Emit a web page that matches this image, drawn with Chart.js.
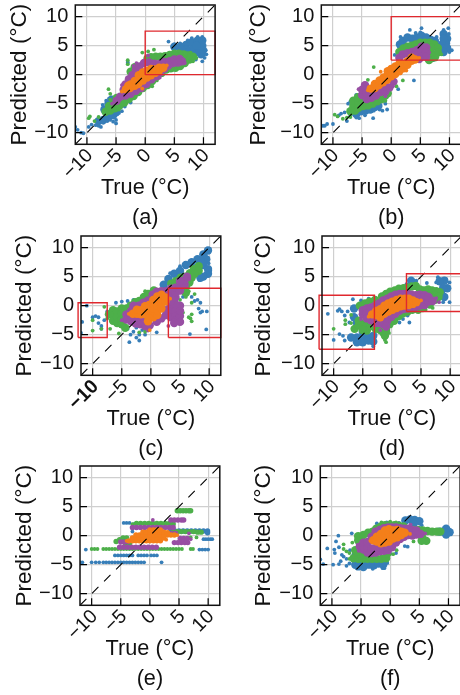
<!DOCTYPE html>
<html><head><meta charset="utf-8">
<style>html,body{margin:0;padding:0;background:#fff;width:460px;height:695px;overflow:hidden}canvas{position:absolute}</style>
<script src="https://cdn.jsdelivr.net/npm/chart.js@4"></script>
</head><body>
<script>
const tickValues=[-10,-5,0,5,10];
const axisMin=-12, axisMax=12;
const xLabel="True (°C)", yLabel="Predicted (°C)";
const diagonal=[[-12,-12],[12,12]];

// ---- panel (a) ----
const a_box=[[0,0],[12,0],[12,7.5],[0,7.5],[0,0]];
const a_blue_core=[[5,4.8],[6,4.8],[7,5.1],[8,5.6],[9,5.9],[9.8,5.9],[9.8,5],[9.9,4.2],[9.6,3.5],[8.8,3.9],[8,4.3],[8.8,5],[7,4.4],[6.2,4.4],[-8,-8],[-7.2,-7.8],[-6.4,-7.3],[-5.5,-7],[-5,-6.5],[-7,-6],[-6.3,-5],[-5.7,-4.3],[-4.5,-4.3]];
const a_blue=[[-12,-9],[-11.6,-9.5],[-11,-10],[-10.6,-10.1],[-9.7,-9],[-9.2,-8.6],[-8.5,-8.7],[-8,-8.8],[-8,-8.1],[-7.6,-9],[-7.2,-8.3],[-6.5,-8],[-6,-7.8],[-5.5,-8.1],[-5,-7.8],[-5,-8.4],[-7.3,-5.2],[-6.7,-4.5],[-6.2,-4.1],[-5.9,-3.9],[-4.5,-6.6],[-4,-6.3],[-3.5,-5.5],[-2.5,-4.8],[-3.2,-3.7],[-3,2],[-3,2.2],[-2,1.2],[4,5.7],[5,5.2],[6,5.4],[7.3,5.9],[8,6.3],[9,6.5],[9.8,6.5],[10,5.6],[10.4,4.2],[10.5,3.5],[10.2,2.9],[9.8,2.3],[8.7,2.6],[8,3.1],[6.8,2.8],[6.6,2.1],[7,4.8],[8.5,3.4]];
const a_green_core=[[-6.8,-6.4],[-6,-6.2],[-5.2,-5.8],[-4.4,-5.3],[-3.6,-4.8],[-2.8,-4.2],[-2,-3.7],[-1.2,-3],[-0.4,-2.3],[0.4,-1.8],[1.2,-1.1],[2,-0.3],[2.8,0.3],[3.6,0.9],[4.4,1.1],[5.2,1.2],[6,1.5],[6.8,2],[7.6,2.6],[8.2,3.1],[7.4,3.3],[6.6,3.5],[5.8,3.6],[5,3.6],[4.2,3.4],[3.4,3.2],[2.6,3.1],[1.8,3.1],[1,3],[0.4,2.8],[-6.2,-5.4],[-5.4,-4.9],[-4.9,-4],[-1.8,1.3],[-2.5,0.5]];
const a_green=[[-9.7,-7.5],[-9.5,-7.2],[-8.7,-8],[-8,-7.3],[-6.3,-2.5],[-6,-3.3],[-6,-4.3],[-3,2.5],[-3,1.8],[-0.5,3.8],[0.5,4],[1.5,4.3],[2,-1],[1.2,-2],[8.8,2.9],[8.2,2.3],[7.8,3.8],[-4.5,-6]];
const a_purple_core=[[-4.3,-3.8],[-3.7,-2.6],[-3.4,-1.7],[-2.8,-0.8],[-2.2,-0.1],[-1.6,0.8],[-1,1.4],[-0.2,2],[0.7,2.1],[1.6,1.9],[2.5,1.9],[3.3,2.2],[4.2,2.3],[5,2.6],[5.9,2.7],[6.3,2.3],[5.6,2.1],[4.8,2],[4,1.6],[3.3,1],[2.6,0.4],[1.9,-0.3],[1.1,-0.8],[0.2,-1.6],[-0.7,-2.3],[-1.6,-2.8],[-2.5,-3.3],[-3.4,-3.6],[-4.9,-4.5],[-3.6,-2.8],[-3,-3]];
const a_purple=[[-5.7,-5],[-2,1.5],[-1.5,2],[0.5,3.3],[-4,-1.8],[6.8,2],[3,1.2],[2.5,-0.5]];
const a_orange_core=[[-3.3,-2.5],[-2.6,-2.3],[-2.5,-1.7],[-1.8,-1.9],[-1.8,-1.1],[-1.2,-1.6],[-1.1,-0.8],[-1.1,-0.1],[-0.4,-1],[-0.4,-0.3],[-0.4,0.4],[0.3,-0.5],[0.3,0.2],[0.3,0.7],[1,-0.1],[1,0.5],[1,1],[1.7,0.3],[1.7,0.9],[2.4,0.7],[2.4,1.2],[3.1,1.2],[-2.9,-1.9]];
const a_orange=[[-4,-2.9],[3.7,1.6],[-0.5,-2.4]];

// ---- panel (b) ----
const b_box=[[0,2.5],[13,2.5],[13,10],[0,10],[0,2.5]];
const b_blue_core=[[2,5.8],[2.8,6.4],[3.6,6.2],[4.4,6.4],[5.2,6.7],[6,6.4],[6.8,6],[7.5,5.8],[1.5,5.2],[9,7],[9.6,6.2],[9.4,5.4],[9,6.2],[8.7,5.2],[8.8,4.5],[9.6,4.6],[9,3.9],[-6,-6.8],[-5.2,-6.3],[-4.4,-6.2],[-3.6,-6],[-2.8,-5.6],[-2.2,-5.4]];
const b_blue=[[-12,-8.8],[-11.7,-8.8],[-11.4,-8.8],[-11,-8.5],[-10,-8.5],[-9,-7],[-8.6,-6.7],[-8,-6.5],[-7.6,-8],[-7,-7],[-6.5,-6],[-6,-7.4],[-5.5,-7.5],[-4.5,-7],[-3.1,-7.5],[-3,-6.2],[-2,-6],[-1.5,-6.2],[-1,-5],[-0.7,-6],[-7.4,-5],[-7,-4.6],[-6,-3.5],[-5,-4.2],[-4,-2.8],[1.2,-2.5],[3.9,-1],[3.2,7.7],[5.2,8],[5,7.3],[1.6,6.5],[1.2,5.4],[0.6,3.4],[6.6,6.5],[9,7.7],[9.8,8],[9.9,7],[10.4,4.2],[9,3.7],[10,3.9],[7.2,2.5],[7.8,6.5],[4.2,7.2]];
const b_green_core=[[-7,-6.3],[-6.5,-5.4],[-6.5,-4.5],[-6.2,-6.2],[-5.6,-5.7],[-5.6,-4.8],[-5.7,-3.9],[-4.8,-5.4],[-4.8,-4.6],[-4,-5.3],[-3.2,-5],[-2.4,-4.6],[-1.6,-4.2],[-1,-3.6],[-0.6,-3.2],[1.4,3.9],[2.1,4.5],[2.8,4.8],[3.5,5],[4.2,5.2],[5,5.5],[5.8,5.5],[6.6,5.5],[7.4,5.2],[8,4.6],[8,3.8],[7.5,3],[6.8,2.8],[6.8,3.8],[6.8,4.7],[6.5,2.5]];
const b_green=[[-9.7,-6.9],[-9.2,-7.2],[-8.3,-7.6],[-7.6,-7.4],[-7,-7.3],[-3,1.3],[-4,-0.9],[2,-1],[-2,-2],[0.9,-2],[-1,-4.5],[-1.5,-3.6],[8.6,3.5]];
const b_purple_core=[[-5,-3.5],[-5,-2.6],[-4.2,-4.2],[-4.2,-3.3],[-4.2,-2.4],[-3.4,-4],[-3.4,-3.2],[-3.4,-2.8],[-2.6,-3.6],[-2.6,-2.9],[-1.8,-3],[-1.8,-2.4],[-1,-2.9],[-1,-2],[-0.3,-2.2],[0.4,-1.2],[-4.5,-1.8],[2,3.5],[2.8,3.7],[3.6,3.9],[3.6,3.3],[4.4,4.2],[4.4,3.4],[5.2,4.8],[5.2,4],[5.2,3.1],[6,4.7],[6,3.9],[6,3.1],[1.4,2.9],[4.8,2.7]];
const b_purple=[[-5.6,-2.5],[-1,-3.7],[0.3,-2],[6.5,3.8],[1.3,3.2]];
const b_orange_core=[[-3.5,-2.4],[-2.8,-2.3],[-2.8,-1.6],[-2.1,-1.8],[-2,-1],[-1.4,-1.3],[-1.3,-0.5],[-0.7,-0.9],[-0.6,-0.1],[-0.6,0.6],[0,-0.3],[0,0.4],[0,1],[0.7,0.1],[0.7,0.8],[0.7,1.4],[1.4,0.6],[1.4,1.3],[1.4,1.9],[2.1,1.1],[2.1,1.8],[2.8,1.7],[2.8,2.3],[3.5,2.4],[3.5,2.9],[4.1,2.6]];
const b_orange=[[-4,-2.7],[-1.8,0.5],[2.6,0.7],[4.8,2.9]];

// ---- panel (c) ----
const c_box1=[[-12.5,-5.5],[-7.5,-5.5],[-7.5,0.5],[-12.5,0.5],[-12.5,-5.5]];
const c_box2=[[3,-5.5],[12,-5.5],[12,3],[3,3],[3,-5.5]];
const c_blue_core=[[2.2,3.6],[3,4.6],[4,5.5],[5,6],[6,7],[7,7.5],[8,8],[9,8.8],[9.8,9.5],[9.5,8],[9,7],[8.6,7.6],[9.8,5.5],[9,5],[9.8,6.3],[8.5,4.8]];
const c_blue=[[10.1,9.8],[9.9,7.3],[10.2,6],[8.3,4.4],[5,6.8],[3.3,5.6],[-11,0],[-12,-4.7],[-11.8,-2.8],[-10,-2],[-9.5,-1.8],[-9,-2],[-9,-3],[-8.5,-3.5],[-8.5,-4],[-8,-2.5],[-7.5,-1],[-6,0.5],[-5,0.7],[-4,0.8],[-3,1],[-2,1],[-4,-4],[-3.5,-5],[-3,-4.5],[-2.5,-5.5],[-2,-5],[-3.7,-6.3],[-2,-6],[-1,-5],[1,-4.6],[2.5,-2],[3,0],[4,-0.5],[3,-1.5],[6.7,-4.9],[9.5,-4.1],[8.8,-1],[9.6,-1],[8.5,-1.2],[8.2,-0.5],[8.5,0.5],[8,1],[7.5,0.8],[7,1.5],[5.5,1.5],[5,-1],[4.5,-2],[-2.5,-3.8],[-1.5,-4.2]];
const c_green_core=[[-7.2,-1.5],[-6.5,-0.8],[-6.5,-1.7],[-6.5,-2.6],[-5.8,-1],[-5.8,-2],[-5.8,-3],[-5,-0.5],[-5,-1.4],[-5,-2.4],[-5,-3.2],[-4.4,-3.8],[-4.2,-0.5],[-3.5,0],[-2.7,0.6],[-2,0.8],[-1.2,1.5],[-0.5,2],[0.5,2.6],[3.5,3.8],[4.3,4.2],[5.1,4.8],[5.9,5],[6.7,5.6],[7.4,6.3],[8.2,6.8],[8.2,6],[7.5,5.5],[7,4.8],[6.6,4],[6,3.2],[5.6,2.6],[6,2.2]];
const c_green=[[-10,-2.5],[-8.5,-4],[-10,-4.3],[-8,-0.2],[-7.5,-2.2],[-7,-4],[-1,2.5],[6.5,2.5],[7.5,2],[6,1.5],[5,1],[7,0.5],[7,-1.5],[6.5,-2],[7,-2.7],[6.8,-2.2],[-1,-4.5],[-2,-4.6],[-3,-3.2],[-5.5,-4.8],[5.5,-1.2],[2,2.5]];
const c_purple_core=[[-4.2,-1.5],[-4.2,-2.4],[-3.4,-0.9],[-3.4,-1.8],[-3.4,-2.7],[-2.6,-2.4],[-2.6,-3.1],[-1.8,-2.4],[-1.8,-3.2],[-1,-2.5],[-1,-3.5],[-0.2,-3.4],[1,-2.8],[1.8,-2.2],[2.6,-1.6],[2.6,-0.8],[3.4,-0.2],[3.4,-1.1],[3.4,-2],[4.2,-1],[4.2,-1.8],[4.2,-2.6],[5,-1.8],[5,-0.9],[5,0],[4.2,0.3],[3.4,0.7],[2.6,1.8],[2.6,2.5],[3.4,2],[3.4,2.9],[4.2,1.4],[4.2,2.2],[4.2,3.1],[5,2.6],[5,3.4],[5.8,3.6],[5.8,4.4],[5,4.2],[1.8,2.5],[1,2.4],[0.3,1.9],[-0.5,0.9],[-1.3,0.5],[-2.1,0],[-3,0],[6.2,5],[5,-2.8],[4,-3]];
const c_purple=[[-5,-2.5],[3,-3.5],[-0.5,-4.3],[6.6,4.6]];
const c_orange_core=[[-3.1,-1.4],[-2.4,-1.4],[-2.4,-0.7],[-1.7,-1.5],[-1.7,-0.8],[-1,-1.5],[-1,-0.8],[-1,-0.1],[-0.3,-1.3],[-0.3,-0.6],[-0.3,0.1],[0.4,-2],[0.4,-1.2],[0.4,-0.5],[0.4,0.3],[0.4,1],[1.1,-1.6],[1.1,-0.8],[1.1,0],[1.1,0.8],[1.1,1.6],[1.8,-0.5],[1.8,0.4],[1.8,1.2],[1.8,1.9],[2.5,0.7],[2.5,1.4],[-0.3,-2.2],[-0.5,-2.7]];
const c_orange=[[-0.2,-4.2],[3.3,1.2],[-3.8,-1.4]];

// ---- panel (d) ----
const d_box1=[[-12.5,-7.5],[-3,-7.5],[-3,1.8],[-12.5,1.8],[-12.5,-7.5]];
const d_box2=[[2.5,-1],[13,-1],[13,5.5],[2.5,5.5],[2.5,-1]];
const d_blue_core=[[9,4.3],[9.5,3],[9,1.5],[8.8,3],[8.2,4.2],[-6,-5.5],[-5,-5.5],[-5,-6.3],[-4,-5.5],[-6,-3],[-5,-4.5],[-6.5,-2],[-6.5,-0.5],[-5,0],[-6,-6.3],[-7,-5.5],[-4,-6],[-3.2,-5.2],[-3.2,-6.2],[3.3,4.3]];
const d_blue=[[7.9,4.9],[9.3,4.6],[9.9,4],[7.6,4],[8.8,2.3],[9.9,0.6],[9.3,1.7],[8.8,0.6],[8.5,3.4],[4.2,4.3],[2.5,3.7],[0.7,2.6],[1.6,3],[6,3.9],[-11,-1.4],[-12.3,-5.7],[-10,-5.9],[-9.3,-0.9],[-9,-0.6],[-8.6,-1],[-8.1,-1.7],[-8.4,-5.2],[-8.1,-6],[-9,-4.9],[-6.7,1.1],[-5.3,0.9],[-4,1.2],[-7.3,-2.9],[-6.7,-4],[2.7,-1.7],[1.9,-2.3],[3,-2.9],[1.3,-2.9],[-3.2,-7],[-3,-4],[-7.6,-1]];
const d_green_core=[[-6.4,-4],[-5.7,-3.4],[-5,-3.2],[-4.3,-3.4],[-4.3,-4.3],[-3.6,-3.5],[-5,-4.2],[-5.7,-2.6],[-2.8,-4],[-2,-4.2],[-1.5,-4.6],[-1.2,-5.2],[-1,-4.2],[-0.4,-3.2],[0.4,-2.6],[1.2,-1.8],[1.9,-1.3],[2.7,-1],[-1.7,1.6],[-1,2],[-0.3,2.4],[0.5,2.6],[1.2,2.9],[2,3],[2.7,3.1],[3.4,3.3],[4.1,3.4],[4.8,2.8],[5.5,2.6],[6.2,2.8],[6.9,2.6],[7.6,2.5],[8.2,2.3],[7.4,1.8],[7.4,1],[8,1.5],[6.5,0.2],[5.3,-0.4],[4.5,-0.7],[3.5,-0.7],[-5.5,0],[-4.6,0.4],[-3.8,0.7],[-2.9,1]];
const d_green=[[-10,-4],[-8,-2.5],[-7,-3],[-1,-6.3],[-1.2,-5.9],[-8,-3.2],[-0.5,-4.7],[1.5,-1.8],[3,-0.6],[7,-0.4],[5.8,-0.7],[-7,-1.6]];
const d_purple_core=[[-5,-1.5],[-5,-0.8],[-4.3,-0.5],[-4.3,-1.3],[-4.3,-2.2],[-3.6,-0.3],[-3.6,-2.5],[-2.9,-3],[-2.9,-2.3],[-2.9,0],[-2.2,0.4],[-2.2,-3],[-1.5,-3.2],[-1.5,-2.4],[-1.5,0.9],[-0.8,-2.6],[-0.8,1.2],[-0.1,-1.9],[-0.1,1.6],[0.6,-1.4],[0.6,1.9],[1.3,-0.9],[1.3,2],[2,-0.6],[2,2],[2.7,-0.5],[2.7,2],[3.4,-0.3],[3.4,1.9],[4.1,-0.2],[4.1,1.8],[4.8,0],[4.8,1],[4.8,1.9],[5.6,0.1],[5.6,1],[5.6,1.8],[6.3,0.7],[6.3,1.5],[7,0.8],[-1,-3.6]];
const d_purple=[[-5.3,-2.3],[-2,-4.2],[7.6,1.3],[8.1,0.6]];
const d_orange_core=[[-3.4,-1.5],[-2.7,-1.6],[-2.7,-0.9],[-2,-2],[-2,-1.3],[-2,-0.6],[-1.3,-1.4],[-1.3,-0.7],[-1.3,0],[-0.6,-1],[-0.6,-0.3],[-0.6,0.4],[0.1,-0.7],[0.1,0],[0.1,0.7],[0.8,-0.4],[0.8,0.3],[0.8,1],[1.5,-0.1],[1.5,0.5],[1.5,1.2],[2.2,0],[2.2,0.6],[2.2,1.2],[2.9,0.1],[2.9,0.7],[2.9,1.2],[3.6,0.3],[3.6,0.9],[4.2,0.6]];
const d_orange=[[-4,-1.9],[5,0.9]];

// ---- panel (e) ----
const e_blue_core=[[3.6,0.8],[4.3,0.8],[5,0.8],[5.7,0.8],[6.4,0.8],[7.1,0.8],[7.8,0.8],[8.5,0.8],[9.2,0.8],[9.9,0.8],[9.9,0.5]];
const e_blue=[[-12,-4.6],[-11.6,-4.6],[-10,-4.6],[-9.3,-4.6],[-8.7,-4.6],[-8,-4.6],[-7.5,-4.6],[-7,-4.6],[-6.5,-4.6],[-6,-4.6],[-5.5,-4.6],[-5,-4.6],[-4.5,-4.6],[-4,-4.6],[-3.5,-4.6],[-3,-4.6],[-2.5,-4.6],[-2,-4.6],[-1.5,-4.6],[-1,-4.6],[2,-4.6],[-6,-3.4],[-5.5,-3.4],[-5,-3.4],[-4.5,-3.4],[-4,-3.4],[-3.5,-3.4],[-3,-3.4],[-2,-3.4],[-1.5,-3.4],[-1,-3.4],[-0.5,-3.4],[0.2,-3.4],[0.7,-3.4],[1.2,-3.4],[-11,-2.4],[8.5,-2.4],[9,-2.4],[9.5,-2.4],[10,-2.4],[9.2,-0.6],[9.6,-0.6],[10,-0.6],[10.4,-0.6],[10.7,-0.6],[-4.5,2.2],[-4,2.2],[-3.5,2.2],[-2.8,2],[-3,1.2],[-3,0.7]];
const e_green_core=[[4.7,4.3],[5.2,4.3],[5.7,4.3],[6.2,4.3],[6.7,4.3],[7,4.3],[-2.3,2.1],[-1.6,2.1],[-0.9,2.1],[-0.2,2.1],[0.5,2.1],[1.2,2.1],[1.9,2.1],[2.6,2.1],[3.3,2.1],[4,2],[4,0.7],[4.7,0.7],[5.4,0.7],[6.1,0.7],[6.8,0.7],[7.5,0.7],[8.2,0.6],[8.8,0.6],[-5.8,-1],[-5.2,-0.7],[-4.6,-0.4],[-4,-0.4],[-4.2,-1.3],[-3.5,-1.3]];
const e_green=[[-10,-2.3],[-9.5,-2.3],[-9,-2.3],[-8,-2.3],[-7.5,-2.3],[-7,-2.3],[-6.5,-2.3],[-6,-2.3],[-5.5,-2.3],[-5,-2.3],[-4.5,-2.3],[-4,-2.3],[-3.5,-2.3],[-3,-2.3],[-2.5,-2.3],[-2,-2.3],[-1.5,-2.3],[-1,-2.3],[-0.5,-2.3],[0,-2.3],[0.5,-2.3],[1,-2.3],[1.5,-2.3],[2,-2.3],[2.5,-2.3],[3,-2.3],[3.5,-2.3],[4,-2.3],[4.5,-2.3],[5,-2.3],[5.5,-2.3],[7,-2.3],[7.4,-2.3],[7,-0.3],[8,-0.3],[-3,2],[6,-0.5],[6.5,-0.4]];
const e_purple_core=[[3.6,2.7],[4.2,2.7],[4.8,2.7],[5.4,2.7],[5.8,2.7],[-5.2,-2],[-4.5,-2],[-3.8,-2],[-3.1,-2],[-2.4,-2],[-1.7,-2],[-1,-2],[-0.3,-2],[0.4,-2],[1.1,-2],[-3,1.4],[-2.3,1.4],[-1.6,1.4],[-0.9,1.4],[-0.2,1.4],[0.5,1.4],[1.2,1.4],[1.9,1.4],[2.6,1.4],[3.3,1.4],[4,1.4],[4.2,-1.2],[4.8,-1.2],[5.4,-1.2],[6,-1.2],[6.5,-1.2],[5.2,-0.5],[5.8,-0.5],[6.4,-0.5],[-5,-1.1],[-4.4,-1.1],[-3.8,-1],[3.7,0.4],[4.4,0.4]];
const e_purple=[[0.5,2.7],[7,-0.6],[6.7,0.4]];
const e_orange_core=[[-3.6,-0.9],[-3,-0.9],[-2.4,-0.9],[-1.8,-0.9],[-1.2,-0.9],[-0.6,-0.9],[0,-0.9],[0.6,-0.9],[1.2,-0.9],[1.8,-0.9],[-3,-0.4],[-2.4,-0.4],[-1.8,-0.4],[-1.2,-0.4],[-0.6,-0.4],[0,-0.4],[0.6,-0.4],[1.2,-0.4],[1.8,-0.4],[2.4,-0.4],[-2.4,0.1],[-1.8,0.1],[-1.2,0.1],[-0.6,0.1],[0,0.1],[0.6,0.1],[1.2,0.1],[1.8,0.1],[2.4,0.1],[3,0.1],[3.6,0.1],[4.2,0.1],[-1.2,0.6],[-0.6,0.6],[0,0.6],[0.6,0.6],[1.2,0.6],[1.8,0.6],[2.4,0.6],[3,0.5],[0,1],[0.6,1],[1.2,1],[1.8,1]];
const e_orange=[[-4,-0.9],[4.7,0.1],[2.8,-0.7]];

// ---- panel (f) ----
const f_blue_core=[[8.4,0.7],[9.1,0.7],[9.8,0.8],[10.2,0.6],[9.6,0.2],[9.6,1.2],[-6,-5],[-5.2,-5],[-4.4,-5],[-3.6,-5],[-2.8,-5.1],[-2,-4.8],[-1.2,-5],[-4.6,-5.4],[-5.5,-5.3],[2.6,2.6],[3.4,2.8],[4.2,2.7],[5,2.5],[4,2]];
const f_blue=[[-12,-4.1],[-11.5,-4.9],[-9.8,-5],[-8.9,0],[-9.3,-1],[-10.8,-2.2],[-9.6,-2.4],[-9.5,-3],[-8.8,-4.9],[-8.3,-3.3],[-8,-3.6],[-8.8,-2],[-6.6,0.4],[-5.8,0.1],[-6.9,-2.5],[-6.3,-3.2],[-7.5,-4],[-1.3,-5.6],[-1,-5.6],[-0.5,-4.7],[0,-3.1],[-0.6,-2.4],[1,-3],[2.5,-1.8],[3,-1.9],[5.4,1.8],[-2.3,2.1],[-0.6,2.3],[1.5,2.2],[-3,-5.7],[-7.5,-5.2],[-8.5,-4.4],[-7,-4.8]];
const f_green_core=[[-6.3,-3.9],[-5.5,-4],[-4.7,-4],[-3.9,-4],[-3.1,-4],[-2.3,-4],[-1.5,-4],[-0.7,-3.9],[-0.5,-3.1],[-5.2,-3.1],[-4.6,-3.3],[-6,-2.5],[-5.6,-2.8],[-5.5,-0.8],[-5.5,-0.1],[-4.6,0.1],[-3.8,0.5],[-3,0.7],[-2.4,1.2],[-1.7,1.5],[-0.9,1.8],[-0.1,1.8],[0.7,1.8],[1.5,1.7],[2.3,1.6],[2.7,0.8],[4,1],[4.8,1],[5.6,0.9],[6.4,0.8],[7.2,0.7],[8,0.7],[8.6,0.7],[5.5,-0.3],[6.2,-0.9],[5.4,-0.9]];
const f_green=[[-8,-1.5],[-8,-2.3],[-7.5,-2.7],[-6.5,-1.2],[-7,-4],[-5,0],[4,-1],[6.5,-1],[8.5,0.4],[1.1,-2.5],[0.5,-3.2],[-7,-3],[-1.5,2.3],[0,2.4],[1,2.3]];
const f_purple_core=[[-5.2,-1.9],[-4.6,-1.2],[-4.6,-2.4],[-3.9,-2.9],[-3.9,-2],[-3.9,-1.1],[-3.2,-3],[-3.2,-2.2],[-3.2,-0.2],[-2.5,-2.9],[-2.5,-2.1],[-2.5,0.7],[-1.8,-2.7],[-1.8,-2],[-1.8,1],[-1.1,-2.6],[-1.1,-1.9],[-1.1,1.3],[-0.4,-2.5],[-0.4,-1.8],[-0.4,1.4],[0.3,-2],[0.3,-1.3],[0.3,1.4],[1,-1.2],[1,1.4],[1.7,-0.6],[1.7,1.3],[2.4,-0.2],[2.4,1.2],[3.1,0.1],[3.1,1.2],[3.8,0],[3.8,1],[4.5,0.2],[4.5,0.9],[5.2,0.3]];
const f_purple=[[-5.6,-1.6],[-5.4,-2.6],[6,0.4],[3.5,1.9]];
const f_orange_core=[[-2.9,-0.8],[-2.3,-1],[-2.3,-0.2],[-1.6,-1.3],[-1.6,-0.5],[-1.6,0.3],[-0.9,-1.2],[-0.9,-0.5],[-0.9,0.3],[-0.9,0.9],[-0.2,-1],[-0.2,-0.3],[-0.2,0.5],[-0.2,1.1],[0.5,-0.5],[0.5,0.2],[0.5,0.9],[1.2,-0.3],[1.2,0.4],[1.2,1],[1.9,0.1],[1.9,0.7],[2.5,0.5]];
const f_orange=[[3.4,0.3],[-3.4,-0.9]];

// colours and panel table (built from the arrays above)
const colours={blue:"#377eb8",green:"#4daf4a",purple:"#984ea3",orange:"#f47f1a"};
const panels=[
 {tag:"(a)",left:75.3,top:5, title:20, core:4.2,boxes:[a_box], blue:[a_blue,a_blue_core], green:[a_green,a_green_core], purple:[a_purple,a_purple_core], orange:[a_orange,a_orange_core]},
 {tag:"(b)",left:321.3,top:5, title:259,core:4.2,boxes:[b_box], blue:[b_blue,b_blue_core], green:[b_green,b_green_core], purple:[b_purple,b_purple_core], orange:[b_orange,b_orange_core]},
 {tag:"(c)",left:81,top:236, title:25, core:4.2,boxes:[c_box1,c_box2], blue:[c_blue,c_blue_core], green:[c_green,c_green_core], purple:[c_purple,c_purple_core], orange:[c_orange,c_orange_core]},
 {tag:"(d)",left:322,top:236, title:264,core:4.2,boxes:[d_box1,d_box2], blue:[d_blue,d_blue_core], green:[d_green,d_green_core], purple:[d_purple,d_purple_core], orange:[d_orange,d_orange_core]},
 {tag:"(e)",left:80,top:466, title:25, core:2.7,boxes:[], blue:[e_blue,e_blue_core], green:[e_green,e_green_core], purple:[e_purple,e_purple_core], orange:[e_orange,e_orange_core]},
 {tag:"(f)",left:320.3,top:466, title:264,core:4.2,boxes:[], blue:[f_blue,f_blue_core], green:[f_green,f_green_core], purple:[f_purple,f_purple_core], orange:[f_orange,f_orange_core]}
];

const PW=139.8, PH=139.3, PAD_T=20, PAD_R=25, BELOW=88.7;
const FONT="'Liberation Sans', Arial, sans-serif";
const toXY=a=>a.map(p=>({x:p[0],y:p[1]}));

const frameAndTicks={
  id:"frameAndTicks",
  afterDatasetsDraw(chart){
    const {ctx,chartArea:c,scales:{x,y}}=chart;
    ctx.save();
    ctx.strokeStyle="#000";
    ctx.lineWidth=1.2;
    ctx.beginPath();
    tickValues.forEach(v=>{
      const px=x.getPixelForValue(v), py=y.getPixelForValue(v);
      ctx.moveTo(px,c.bottom); ctx.lineTo(px,c.bottom-7);
      ctx.moveTo(c.left,py); ctx.lineTo(c.left+7,py);
    });
    ctx.stroke();
    ctx.lineWidth=1.5;
    ctx.strokeStyle="#111";
    ctx.strokeRect(c.left,c.top,c.right-c.left,c.bottom-c.top);
    ctx.restore();
  }
};

panels.forEach(p=>{
  const cLeft=p.title-15, cTop=p.top-PAD_T;
  const L=p.left-cLeft;
  const W=Math.ceil(L+PW+PAD_R), H=Math.round(PAD_T+PH+BELOW);
  const R=W-L-PW;
  const below=H-PAD_T-PH;
  const cv=document.createElement("canvas");
  cv.width=W;cv.height=H;
  cv.style.left=cLeft+"px";cv.style.top=cTop+"px";
  cv.style.width=W+"px";cv.style.height=H+"px";
  document.body.appendChild(cv);
  const datasets=[];
  p.boxes.forEach(b=>datasets.push({data:toXY(b),showLine:true,borderColor:"#e0282e",borderWidth:1.4,pointRadius:0,fill:false,clip:false,tension:0}));
  datasets.push({data:toXY(diagonal),showLine:true,borderColor:"#000",borderWidth:1.1,borderDash:[9,8],pointRadius:0,fill:false,tension:0});
  ["orange","purple","green","blue"].forEach(k=>{
    datasets.push({data:toXY(p[k][0]),backgroundColor:colours[k],borderWidth:0,pointRadius:1.9,pointHoverRadius:1.9});
    datasets.push({data:toXY(p[k][1]),backgroundColor:colours[k],borderWidth:0,pointRadius:p.core,pointHoverRadius:p.core});
  });
  const tick=v=>String(v).replace("-","\u2212");
  new Chart(cv,{
    type:"scatter",
    data:{datasets},
    plugins:[frameAndTicks],
    options:{
      responsive:false,animation:false,events:[],
      layout:{padding:{left:0,top:PAD_T,right:R,bottom:0}},
      plugins:{legend:{display:false},tooltip:{enabled:false}},
      scales:{
        x:{type:"linear",min:axisMin,max:axisMax,
           afterBuildTicks:s=>{s.ticks=tickValues.map(v=>({value:v}))},
           afterFit:s=>{s.height=below},
           grid:{color:"#cfcfcf",lineWidth:1.2,drawTicks:false},
           border:{display:false},
           ticks:{autoSkip:false,minRotation:45,maxRotation:45,labelOffset:3,padding:0,color:"#111",
             font:c=>({family:FONT,size:19.5,weight:(p.tag==="(c)"&&c.tick&&c.tick.value===-10)?"bold":"normal"}),callback:tick},
           title:{display:true,text:[xLabel,p.tag],color:"#111",padding:0,font:{family:FONT,size:21.7,lineHeight:30/21.7}}},
        y:{type:"linear",min:axisMin,max:axisMax,
           afterBuildTicks:s=>{s.ticks=tickValues.map(v=>({value:v}))},
           afterFit:s=>{s.width=L},
           grid:{color:"#cfcfcf",lineWidth:1.2,drawTicks:false},
           border:{display:false},
           ticks:{autoSkip:false,padding:7,color:"#111",font:{family:FONT,size:20},callback:tick},
           title:{display:true,text:yLabel,color:"#111",padding:0,font:{family:FONT,size:22.5,lineHeight:30/22.5}}}
      }
    }
  });
});
</script>
</body></html>
